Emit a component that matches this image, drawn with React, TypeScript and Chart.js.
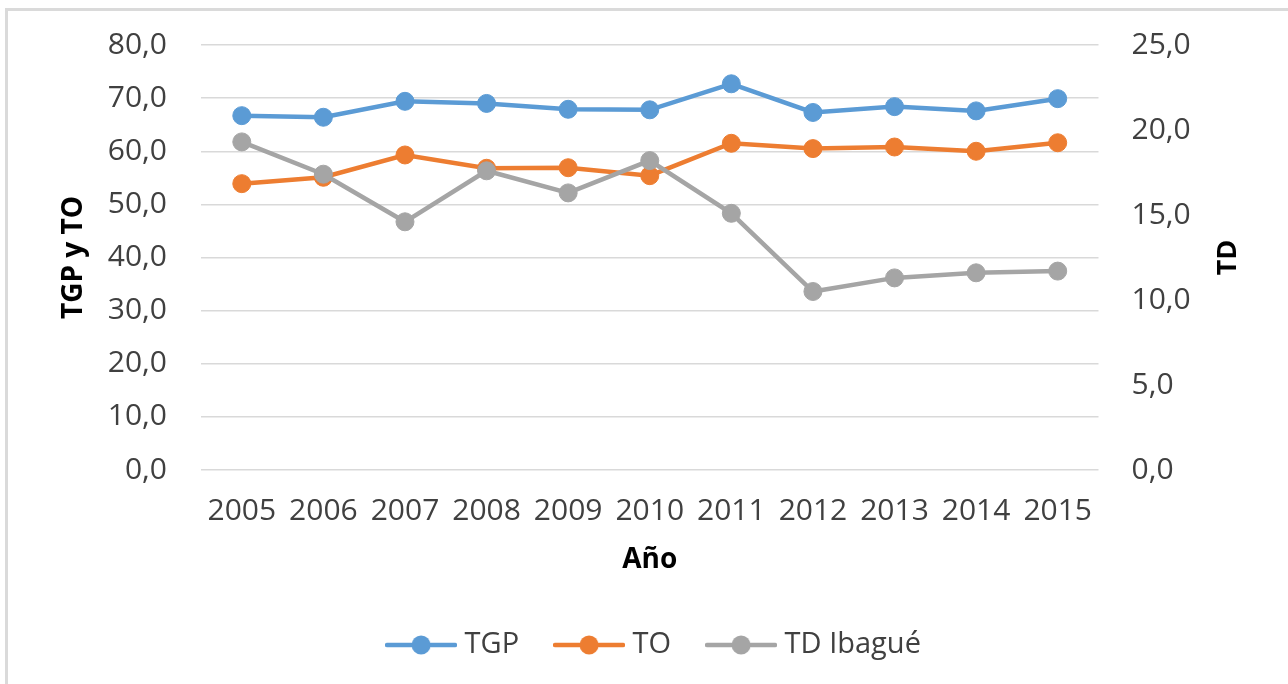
import React, { useEffect, useRef } from 'react';
import { Chart, registerables } from 'chart.js';

Chart.register(...registerables);

const YEARS = ['2005', '2006', '2007', '2008', '2009', '2010', '2011', '2012', '2013', '2014', '2015'];
const TGP = [66.7, 66.4, 69.4, 69.0, 67.9, 67.8, 72.7, 67.3, 68.4, 67.6, 69.9];
const TO = [53.9, 55.1, 59.3, 56.8, 56.9, 55.4, 61.5, 60.5, 60.8, 60.0, 61.6];
const TD = [19.3, 17.4, 14.6, 17.6, 16.3, 18.2, 15.1, 10.5, 11.3, 11.6, 11.7];

const SERIES_NAMES = ['TGP', 'TO', 'TD Ibagué'];
const COLORS = ['#5B9BD5', '#ED7D31', '#A5A5A5'];
const LEFT_TITLE = 'TGP y TO';
const RIGHT_TITLE = 'TD';
const X_TITLE = 'Año';

const FONT = '"Open Sans", "Noto Sans", sans-serif';
const TICK_COLOR = '#404040';

const fmt = (v: number) => Number(v).toFixed(1).replace('.', ',');

function legendIcon(color: string) {
  const c = document.createElement('canvas');
  c.width = 72;
  c.height = 22;
  const ctx = c.getContext('2d')!;
  ctx.strokeStyle = color;
  ctx.lineWidth = 4.5;
  ctx.lineCap = 'round';
  ctx.beginPath();
  ctx.moveTo(2, 11);
  ctx.lineTo(70, 11);
  ctx.stroke();
  ctx.fillStyle = color;
  ctx.beginPath();
  ctx.arc(36, 11, 9.5, 0, Math.PI * 2);
  ctx.fill();
  return c;
}

const rightTitlePlugin = {
  id: 'rightTitle',
  afterDraw(chart: any) {
    const s = chart.scales.y1;
    const ctx = chart.ctx;
    ctx.save();
    ctx.font = `bold 27px ${FONT}`;
    ctx.fillStyle = '#000';
    ctx.textAlign = 'center';
    ctx.textBaseline = 'middle';
    ctx.translate(s.right - 60, (chart.chartArea.top + chart.chartArea.bottom) / 2);
    ctx.rotate(-Math.PI / 2);
    ctx.fillText(RIGHT_TITLE, 0, 0);
    ctx.restore();
  },
};

export default function App() {
  const ref = useRef<HTMLCanvasElement>(null);

  useEffect(() => {
    if (!ref.current) return;
    const icons = COLORS.map(legendIcon);
    const seriesData = [TGP, TO, TD];
    const chart = new Chart(ref.current, {
      type: 'line',
      data: {
        labels: YEARS,
        datasets: SERIES_NAMES.map((name, i) => ({
          label: name,
          data: seriesData[i],
          yAxisID: i === 2 ? 'y1' : 'y',
          borderColor: COLORS[i],
          backgroundColor: COLORS[i],
          pointBackgroundColor: COLORS[i],
          pointBorderColor: COLORS[i],
          borderWidth: 4.5,
          pointRadius: 9,
          pointBorderWidth: 1,
          tension: 0,
          order: i === 2 ? 0 : i + 1,
        })),
      },
      options: {
        animation: false,
        responsive: false,
        layout: { padding: { left: 25, right: 0, top: 45, bottom: 14.5 } },
        plugins: {
          tooltip: { enabled: false },
          legend: {
            position: 'bottom',
            labels: {
              usePointStyle: true,
              pointStyleWidth: 58,
              padding: 41,
              color: TICK_COLOR,
              font: { family: FONT, size: 29 },
              sort: (a: any, b: any) => a.datasetIndex - b.datasetIndex,
              generateLabels: (ch: any) => {
                const items = Chart.defaults.plugins.legend.labels.generateLabels(ch);
                return items.map((it: any) => ({ ...it, pointStyle: icons[it.datasetIndex] }));
              },
            },
          },
        },
        scales: {
          x: {
            offset: true,
            grid: { display: false, drawTicks: false },
            border: { display: false },
            ticks: {
              autoSkip: false,
              maxRotation: 0,
              padding: 23,
              color: TICK_COLOR,
              font: { family: FONT, size: 30 },
            },
            title: {
              display: true,
              text: X_TITLE,
              color: '#000',
              font: { family: FONT, size: 28, weight: 'bold' },
              padding: { top: 0, bottom: 12.7 },
            },
            afterFit: (s: any) => {
              s.height = 119.5;
            },
          },
          y: {
            position: 'left',
            min: 0,
            max: 80,
            ticks: {
              stepSize: 10,
              padding: 34,
              color: TICK_COLOR,
              font: { family: FONT, size: 30 },
              callback: (v: any) => fmt(v),
            },
            grid: { color: '#D9D9D9', lineWidth: 1.5, drawTicks: false },
            border: { display: false },
            title: {
              display: true,
              text: LEFT_TITLE,
              color: '#000',
              font: { family: FONT, size: 28, weight: 'bold' },
              padding: { top: 32, bottom: 0 },
            },
            afterFit: (s: any) => {
              s.width = 176;
              s.paddingTop = 0;
              s.paddingBottom = 0;
            },
          },
          y1: {
            position: 'right',
            min: 0,
            max: 25,
            ticks: {
              stepSize: 5,
              padding: 33,
              color: TICK_COLOR,
              font: { family: FONT, size: 30 },
              callback: (v: any) => fmt(v),
            },
            grid: { drawOnChartArea: false, drawTicks: false },
            border: { display: false },
            afterFit: (s: any) => {
              s.width = 189.5;
              s.paddingTop = 0;
              s.paddingBottom = 0;
            },
          },
        },
      },
      plugins: [rightTitlePlugin],
    } as any);
    return () => chart.destroy();
  }, []);

  return (
    <div style={{ position: 'absolute', left: 0, top: 0, width: 1288, height: 684, overflow: 'hidden', background: '#fff' }}>
      <div
        style={{
          position: 'absolute',
          left: 5,
          top: 8,
          width: 1400,
          height: 800,
          borderLeft: '3px solid #DADADA',
          borderTop: '3px solid #DADADA',
        }}
      />
      <canvas ref={ref} width={1288} height={684} style={{ position: 'absolute', left: 0, top: 0 }} />
    </div>
  );
}
